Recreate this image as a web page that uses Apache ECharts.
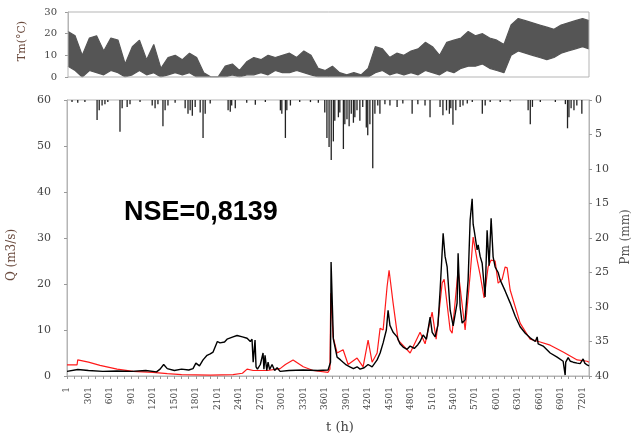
<!DOCTYPE html>
<html><head><meta charset="utf-8">
<script src="https://cdn.jsdelivr.net/npm/echarts@6/dist/echarts.min.js"></script>
<style>html,body{margin:0;padding:0;background:#fff}#c{width:641px;height:439px}</style>
</head><body><div id="c"></div>
<script>
// Temperature (°C) every 100 h: max and min
const tTimes = [0,100,200,300,400,500,600,700,800,900,1000,1100,1200,1300,1400,1500,1600,1700,1800,1900,2000,2100,2200,2300,2400,2500,2600,2700,2800,2900,3000,3100,3200,3300,3400,3500,3600,3700,3800,3900,4000,4100,4200,4300,4400,4500,4600,4700,4800,4900,5000,5100,5200,5300,5400,5500,5600,5700,5800,5900,6000,6100,6200,6300,6400,6500,6600,6700,6800,6900,7000,7100,7200,7290];
const tMax = [21,19,10,18,19,12,18,17,6,14,17,8,15,4,9,10,8,11,9,2,0,0,5,6,3,7,9,8,10,9,10,11,9,12,10,4,3,5,2,1,2,1,4,14,13,9,11,10,12,13,16,14,10,16,17,18,21,19,20,18,17,15,24,27,26,25,24,23,22,24,25,26,27,26];
const tMin = [5,3,0,3,2,1,3,2,0,1,3,1,2,0,1,2,1,2,0,0,0,0,0,1,0,1,1,2,1,3,2,2,3,2,1,0,0,0,0,0,0,0,0,2,3,1,2,1,2,1,3,2,1,3,2,4,5,5,6,4,3,2,10,12,11,10,9,8,9,11,12,13,14,13];

// Observed discharge Q (m3/s): [t, Q]
const qObs = [[0,1.0],[150,1.4],[300,1.2],[500,1.0],[700,1.1],[900,1.0],[1100,1.2],[1250,0.9],[1300,1.5],[1350,2.5],[1400,1.6],[1500,1.2],[1600,1.5],[1700,1.3],[1760,1.6],[1800,2.8],[1850,2.2],[1900,3.5],[1956,4.5],[2000,4.8],[2040,5.2],[2100,7.5],[2137,7.2],[2200,7.4],[2235,8.0],[2319,8.5],[2375,8.8],[2450,8.5],[2515,8.2],[2560,7.5],[2584,8.0],[2600,3.0],[2626,7.8],[2640,2.0],[2660,1.5],[2700,2.5],[2738,5.0],[2750,1.5],[2766,4.5],[2790,1.2],[2808,3.0],[2830,1.4],[2864,2.5],[2900,1.2],[2934,1.8],[2976,1.0],[3100,1.2],[3300,1.3],[3500,1.2],[3646,1.3],[3680,3.0],[3688,24.8],[3720,8.0],[3772,4.1],[3820,3.5],[3856,3.0],[3900,2.4],[3950,2.0],[4000,1.6],[4051,2.0],[4093,1.5],[4150,1.8],[4205,2.5],[4261,2.0],[4331,3.5],[4373,5.0],[4415,7.2],[4460,10.0],[4484,14.3],[4510,11.0],[4554,9.5],[4610,8.5],[4650,7.0],[4694,6.3],[4750,5.8],[4792,6.5],[4850,6.0],[4900,6.8],[4931,7.5],[4973,8.9],[5020,8.0],[5071,12.8],[5100,9.5],[5141,8.5],[5180,11.0],[5211,18.7],[5253,31.0],[5280,26.0],[5309,23.7],[5351,14.3],[5393,10.9],[5448,15.9],[5462,26.7],[5490,15.0],[5518,11.5],[5560,12.2],[5602,20.9],[5630,33.9],[5658,38.5],[5672,33.0],[5686,31.7],[5728,27.4],[5742,28.5],[5770,26.0],[5798,24.5],[5839,17.2],[5867,31.7],[5895,24.0],[5923,34.3],[5951,25.9],[5979,23.7],[6021,22.5],[6049,20.9],[6119,18.5],[6189,15.9],[6260,13.0],[6328,10.7],[6400,9.3],[6468,8.3],[6540,7.5],[6566,8.5],[6580,7.0],[6650,6.5],[6748,5.0],[6845,4.1],[6929,3.2],[6950,3.0],[6957,0.2],[6965,3.0],[6999,4.0],[7030,3.2],[7069,3.0],[7125,2.8],[7167,2.7],[7208,3.7],[7230,2.8],[7264,2.4],[7290,2.2]];

// Simulated discharge Q (m3/s): [t, Q]
const qSim = [[0,2.4],[140,2.4],[150,3.5],[300,3.0],[461,2.3],[700,1.5],[922,1.0],[1200,0.8],[1400,0.5],[1600,0.3],[2000,0.2],[2319,0.3],[2450,0.6],[2515,1.5],[2600,1.2],[2800,1.2],[2976,1.6],[3050,2.5],[3157,3.5],[3300,2.0],[3437,1.2],[3646,0.8],[3672,1.5],[3684,18.0],[3716,8.5],[3772,5.0],[3856,5.7],[3926,2.5],[4051,3.9],[4135,2.0],[4205,7.8],[4261,3.0],[4331,5.0],[4373,10.4],[4415,10.0],[4470,19.4],[4498,23.0],[4554,15.9],[4624,7.8],[4792,5.0],[4931,9.5],[5001,7.0],[5099,13.9],[5155,8.0],[5239,20.2],[5267,21.0],[5351,10.0],[5379,9.3],[5462,23.0],[5560,10.0],[5630,22.0],[5672,30.2],[5728,25.2],[5770,22.0],[5825,17.0],[5881,23.7],[5923,25.2],[5979,25.0],[6021,20.2],[6077,21.0],[6119,23.7],[6147,23.5],[6189,18.7],[6328,11.5],[6468,8.0],[6608,7.4],[6748,6.7],[6929,5.2],[7125,3.5],[7264,3.2],[7290,3.0]];

// Precipitation Pm (mm): [t, mm]
const pRain = [[70,0.3],[150,0.4],[250,0.3],[420,2.9],[450,1.5],[490,0.8],[530,0.6],[570,0.3],[740,4.6],[770,1.2],[840,1.0],[880,0.6],[1020,0.3],[1190,0.8],[1230,1.2],[1270,0.6],[1340,3.8],[1370,1.5],[1410,0.8],[1510,0.4],[1650,1.2],[1690,2.0],[1720,1.5],[1750,2.3],[1790,1.0],[1860,1.8],[1900,5.5],[1930,2.0],[2000,0.5],[2250,1.5],[2280,1.7],[2300,0.8],[2350,1.2],[2510,0.4],[2630,0.7],[2770,0.3],[2980,1.5],[3000,2.0],[3050,5.5],[3070,1.5],[3120,0.8],[3250,0.3],[3400,0.3],[3510,0.4],[3600,1.8],[3630,5.5],[3660,6.8],[3690,8.7],[3720,6.0],[3740,3.0],[3790,2.5],[3810,1.8],[3860,7.1],[3880,3.5],[3910,2.8],[3940,3.8],[3970,2.0],[4000,3.3],[4020,2.5],[4050,1.5],[4090,3.0],[4130,1.0],[4180,4.0],[4200,5.1],[4230,3.5],[4270,9.9],[4300,2.0],[4340,0.8],[4370,2.0],[4440,0.6],[4510,0.8],[4610,1.0],[4690,0.5],[4820,2.0],[4900,0.6],[5000,0.8],[5070,2.5],[5210,1.0],[5250,2.2],[5300,1.5],[5340,2.0],[5360,1.2],[5390,3.6],[5430,1.5],[5490,1.0],[5530,0.8],[5590,0.5],[5660,0.3],[5800,2.0],[5840,0.8],[5910,0.3],[6050,0.3],[6190,0.2],[6440,1.5],[6470,3.5],[6500,1.0],[6610,0.3],[6820,0.3],[6960,0.6],[6990,4.1],[7010,2.5],[7040,1.2],[7080,1.5],[7120,0.8],[7190,2.0]];

const tempHigh = tTimes.map((t, i) => [t, tMax[i]]);
const tempLow = tTimes.map((t, i) => [t, tMin[i]]);

const serif = 'DejaVu Serif';
const labelColor = '#444';
const axisGray = '#b5b5b5';

const chart = echarts.init(document.getElementById('c'), null, {renderer: 'canvas'});
chart.setOption({
  animation: false,
  backgroundColor: '#fff',
  grid: [
    {left: 68, right: 52, top: 12, height: 65, show: true, borderColor: axisGray, borderWidth: 1, z: 5},
    {left: 67, right: 52, top: 100, bottom: 63, show: true, borderColor: axisGray, borderWidth: 1}
  ],
  xAxis: [
    {gridIndex: 0, type: 'value', min: 0, max: 7290, show: false},
    {gridIndex: 1, type: 'value', min: 0, max: 7290, interval: 300,
     axisLine: {lineStyle: {color: axisGray}},
     axisTick: {show: true, length: 3, lineStyle: {color: '#999'}},
     minorTick: {show: true, splitNumber: 3, length: 3, lineStyle: {color: '#999'}},
     splitLine: {show: false},
     axisLabel: {rotate: 90, margin: 11, fontFamily: serif, fontSize: 9, color: labelColor,
       formatter: v => (v % 300 === 0 && v <= 7200) ? String(v + 1) : ''}
    }
  ],
  yAxis: [
    {gridIndex: 0, type: 'value', min: 0, max: 30, interval: 10,
     axisLine: {show: true, lineStyle: {color: axisGray}},
     axisTick: {show: true, length: 3, lineStyle: {color: '#999'}},
     splitLine: {show: false},
     axisLabel: {margin: 11, fontFamily: serif, fontSize: 10, color: labelColor}},
    {gridIndex: 1, type: 'value', min: 0, max: 60, interval: 10,
     axisLine: {show: true, lineStyle: {color: axisGray}},
     axisTick: {show: true, length: 3, lineStyle: {color: '#999'}},
     splitLine: {show: false},
     axisLabel: {margin: 16, fontFamily: serif, fontSize: 11, color: labelColor}},
    {gridIndex: 1, type: 'value', min: 0, max: 40, interval: 5, inverse: true, position: 'right',
     axisLine: {show: true, lineStyle: {color: axisGray}},
     axisTick: {show: true, length: 3, lineStyle: {color: '#999'}},
     splitLine: {show: false},
     axisLabel: {margin: 6, fontFamily: serif, fontSize: 11, color: labelColor}}
  ],
  series: [
    {type: 'line', xAxisIndex: 0, yAxisIndex: 0, data: tempHigh, symbol: 'none',
     lineStyle: {width: 1.2, color: '#555'}, areaStyle: {color: '#555', opacity: 1, origin: 'start'}, silent: true, z: 1},
    {type: 'line', xAxisIndex: 0, yAxisIndex: 0, data: tempLow, symbol: 'none',
     lineStyle: {width: 1.2, color: '#555'}, areaStyle: {color: '#fff', opacity: 1, origin: 'start'}, silent: true, z: 2},
    {type: 'bar', xAxisIndex: 1, yAxisIndex: 2, data: pRain, barWidth: 1.3,
     itemStyle: {color: '#222'}, silent: true},
    {type: 'line', xAxisIndex: 1, yAxisIndex: 1, data: qSim, symbol: 'none',
     lineStyle: {width: 1.2, color: '#ff1a1a'}, silent: true, z: 3},
    {type: 'line', xAxisIndex: 1, yAxisIndex: 1, data: qObs, symbol: 'none',
     lineStyle: {width: 1.4, color: '#000'}, silent: true, z: 4}
  ],
  graphic: [
    {type: 'text', left: 124, top: 199, style: {text: 'NSE=0,8139', font: 'bold 27px "Liberation Sans", Arial, sans-serif', fill: '#000'}},
    {type: 'text', x: 22, y: 41, rotation: Math.PI / 2, style: {text: 'Tm(°C)', font: '11px "DejaVu Serif"', fill: '#6b4b3e', align: 'center', verticalAlign: 'middle'}},
    {type: 'text', x: 12, y: 255, rotation: Math.PI / 2, style: {text: 'Q (m3/s)', font: '12px "DejaVu Serif"', fill: '#6b4b3e', align: 'center', verticalAlign: 'middle'}},
    {type: 'text', x: 626, y: 237, rotation: Math.PI / 2, style: {text: 'Pm (mm)', font: '12px "DejaVu Serif"', fill: '#555', align: 'center', verticalAlign: 'middle'}},
    {type: 'text', x: 340, y: 428, style: {text: 't (h)', font: '13px "DejaVu Serif"', fill: '#444', align: 'center', verticalAlign: 'middle'}}
  ]
});
</script></body></html>
